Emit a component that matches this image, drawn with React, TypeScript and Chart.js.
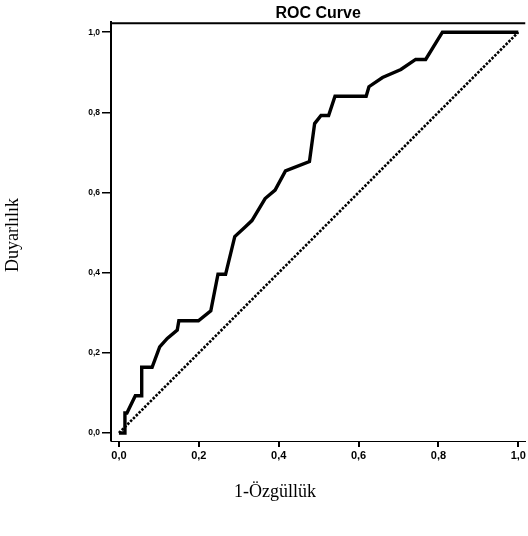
import React, { useEffect, useRef } from "react";
import { Chart, registerables } from "chart.js";

Chart.register(...registerables);

// 1 - specificity (false positive rate) along the ROC curve
const fprValues = [
  0, 0.015, 0.015, 0.02, 0.041, 0.057, 0.057, 0.083, 0.102, 0.121,
  0.146, 0.15, 0.199, 0.23, 0.248, 0.267, 0.29, 0.316, 0.333, 0.366,
  0.391, 0.417, 0.477, 0.49, 0.506, 0.525, 0.541, 0.619, 0.626, 0.66,
  0.706, 0.743, 0.768, 0.81, 1.0,
];
// sensitivity (true positive rate)
const tprValues = [
  0, 0, 0.05, 0.05, 0.093, 0.093, 0.164, 0.164, 0.215, 0.236,
  0.257, 0.28, 0.28, 0.305, 0.396, 0.396, 0.49, 0.514, 0.53, 0.585,
  0.606, 0.654, 0.677, 0.772, 0.792, 0.792, 0.84, 0.84, 0.864, 0.887,
  0.907, 0.932, 0.932, 1.0, 1.0,
];
// reference diagonal
const refX = [0, 1];
const refY = [0, 1];

const tickValues = [0, 0.2, 0.4, 0.6, 0.8, 1.0];
const titleText = "ROC Curve";
const xTitle = "1-Özgüllük";
const yTitle = "Duyarlılık";

const fmt = (v: number) => v.toFixed(1).replace(".", ",");

const W = 528;
const H = 536;

export default function App() {
  const ref = useRef<HTMLCanvasElement | null>(null);

  useEffect(() => {
    if (!ref.current) return;

    const framePlugin = {
      id: "frameAndTitles",
      afterDraw(chart: any) {
        const { ctx, chartArea } = chart;
        ctx.save();
        // top frame line
        ctx.strokeStyle = "#000";
        ctx.lineWidth = 2;
        ctx.beginPath();
        ctx.moveTo(chartArea.left - 1, chartArea.top + 1);
        ctx.lineTo(chartArea.right, chartArea.top + 1);
        ctx.stroke();
        // axis titles
        ctx.fillStyle = "#000";
        ctx.font = '18px "Liberation Serif", "Times New Roman", serif';
        ctx.textAlign = "center";
        ctx.textBaseline = "middle";
        ctx.fillText(xTitle, 275, 492);
        ctx.translate(13, 235);
        ctx.rotate(-Math.PI / 2);
        ctx.fillText(yTitle, 0, 0);
        ctx.restore();
      },
    };

    const chart = new Chart(ref.current, {
      type: "line",
      data: {
        datasets: [
          {
            data: fprValues.map((x, i) => ({ x, y: tprValues[i] })),
            borderColor: "#000",
            borderWidth: 3.4,
            pointRadius: 0,
            tension: 0,
            fill: false,
            borderJoinStyle: "miter",
          },
          {
            data: refX.map((x, i) => ({ x, y: refY[i] })),
            borderColor: "#000",
            borderWidth: 2.6,
            borderDash: [2.5, 1.5],
            pointRadius: 0,
            tension: 0,
            fill: false,
          },
        ],
      },
      options: {
        animation: false,
        responsive: false,
        layout: { padding: 0 },
        plugins: {
          legend: { display: false },
          tooltip: { enabled: false },
          title: {
            display: true,
            text: titleText,
            fullSize: false,
            color: "#000",
            font: { family: '"Liberation Sans", Arial, sans-serif', size: 16, weight: "bold" },
            padding: { top: 4, bottom: -1 },
          },
        },
        scales: {
          x: {
            type: "linear",
            min: -0.0199,
            max: 1.0174,
            afterBuildTicks: (scale: any) => {
              scale.ticks = tickValues.map((v) => ({ value: v }));
            },
            afterFit: (scale: any) => {
              scale.height = H - 441;
            },
            ticks: {
              color: "#000",
              font: { family: '"Liberation Sans", Arial, sans-serif', size: 11, weight: "bold" },
              padding: 2,
              maxRotation: 0,
              autoSkip: false,
              callback: (v: any) => fmt(Number(v)),
            },
            grid: {
              drawOnChartArea: false,
              drawTicks: true,
              tickLength: 6,
              color: "#000",
              lineWidth: 2,
            },
            border: { display: true, color: "#000", width: 1 },
          },
          y: {
            type: "linear",
            min: -0.01995,
            max: 1.0249,
            afterBuildTicks: (scale: any) => {
              scale.ticks = tickValues.map((v) => ({ value: v }));
            },
            afterFit: (scale: any) => {
              scale.width = 111;
            },
            ticks: {
              color: "#000",
              font: { family: '"Liberation Sans", Arial, sans-serif', size: 8.5, weight: "bold" },
              padding: 2,
              autoSkip: false,
              callback: (v: any) => fmt(Number(v)),
            },
            grid: {
              drawOnChartArea: false,
              drawTicks: true,
              tickLength: 9,
              color: "#000",
              lineWidth: 1.5,
            },
            border: { display: true, color: "#000", width: 2 },
          },
        },
      },
      plugins: [framePlugin],
    } as any);

    return () => chart.destroy();
  }, []);

  return (
    <div style={{ position: "absolute", left: 0, top: 0, width: W, height: H, background: "#fff" }}>
      <canvas ref={ref} width={W} height={H} style={{ display: "block" }} />
    </div>
  );
}
